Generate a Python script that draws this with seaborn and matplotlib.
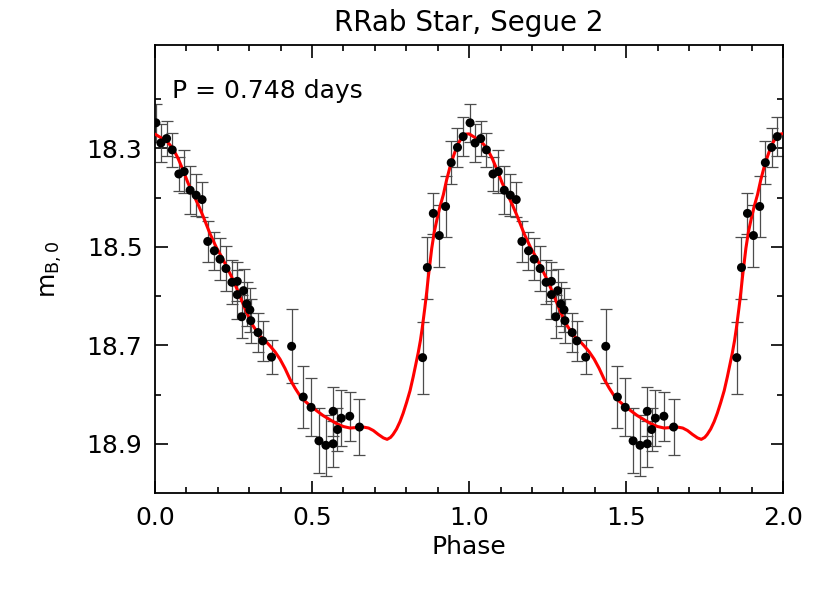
import numpy as np
import pandas as pd
import matplotlib
matplotlib.use("Agg")
import matplotlib.pyplot as plt
from matplotlib.ticker import MultipleLocator, FixedLocator, FormatStrFormatter
import seaborn as sns

# Observed points, one cycle (phase, B magnitude, error)
phase = [0.003, 0.019, 0.037, 0.055, 0.076, 0.093, 0.112, 0.131, 0.150,
         0.168, 0.189, 0.207, 0.226, 0.245, 0.262, 0.262, 0.282, 0.276,
         0.292, 0.302, 0.305, 0.328, 0.343, 0.371, 0.435, 0.472, 0.497,
         0.522, 0.544, 0.567, 0.567, 0.581, 0.593, 0.620, 0.651, 0.852,
         0.867, 0.886, 0.905, 0.925, 0.943, 0.963, 0.981]
mag = [18.248, 18.289, 18.280, 18.303, 18.352, 18.347, 18.385, 18.395, 18.404,
       18.489, 18.508, 18.525, 18.544, 18.572, 18.570, 18.597, 18.589, 18.642,
       18.616, 18.628, 18.650, 18.674, 18.691, 18.724, 18.702, 18.805, 18.826,
       18.894, 18.903, 18.834, 18.900, 18.871, 18.848, 18.844, 18.866, 18.725,
       18.542, 18.432, 18.477, 18.418, 18.329, 18.298, 18.276]
err = [0.039, 0.038, 0.035, 0.034, 0.035, 0.043, 0.049, 0.042, 0.036,
       0.042, 0.038, 0.043, 0.045, 0.045, 0.040, 0.050, 0.045, 0.044,
       0.045, 0.045, 0.045, 0.040, 0.040, 0.034, 0.075, 0.063, 0.059,
       0.066, 0.062, 0.050, 0.047, 0.044, 0.057, 0.050, 0.057, 0.073,
       0.063, 0.042, 0.063, 0.061, 0.044, 0.040, 0.039]

# Template fit, one cycle
fit_phase = [0.000, 0.026, 0.040, 0.058, 0.074, 0.090, 0.105, 0.122, 0.138,
             0.154, 0.175, 0.196, 0.212, 0.228, 0.244, 0.260, 0.276, 0.292,
             0.313, 0.334, 0.350, 0.366, 0.382, 0.398, 0.414, 0.430, 0.446,
             0.461, 0.477, 0.493, 0.515, 0.536, 0.557, 0.578, 0.600, 0.621,
             0.642, 0.663, 0.680, 0.695, 0.711, 0.727, 0.739, 0.750, 0.758,
             0.769, 0.780, 0.790, 0.801, 0.812, 0.822, 0.830, 0.838, 0.845,
             0.851, 0.859, 0.865, 0.870, 0.876, 0.881, 0.889, 0.897, 0.907,
             0.918, 0.928, 0.939, 0.950, 0.960, 0.970, 0.981, 0.990, 1.000]
fit_mag = [18.271, 18.281, 18.287, 18.301, 18.321, 18.345, 18.370, 18.393, 18.415,
           18.439, 18.473, 18.502, 18.520, 18.540, 18.561, 18.584, 18.609, 18.634,
           18.661, 18.681, 18.690, 18.701, 18.713, 18.728, 18.747, 18.769, 18.787,
           18.802, 18.813, 18.822, 18.833, 18.843, 18.851, 18.859, 18.865, 18.868,
           18.867, 18.866, 18.868, 18.873, 18.881, 18.888, 18.891, 18.887, 18.881,
           18.870, 18.855, 18.838, 18.816, 18.792, 18.764, 18.740, 18.715, 18.690,
           18.664, 18.624, 18.592, 18.562, 18.530, 18.503, 18.470, 18.446, 18.419,
           18.394, 18.365, 18.338, 18.316, 18.298, 18.285, 18.276, 18.271, 18.270]

# light curve is shown twice
obs = pd.DataFrame({"phase": np.concatenate([phase, np.array(phase) + 1]),
                    "mag": mag * 2, "err": err * 2})
fit = pd.DataFrame({"phase": np.concatenate([fit_phase, np.array(fit_phase) + 1]),
                    "mag": fit_mag * 2})

sns.set_theme(style="ticks")
plt.rcParams["font.family"] = ["DejaVu Sans"]
plt.rcParams.update({"text.color": "black", "axes.labelcolor": "black",
                     "xtick.color": "black", "ytick.color": "black"})

fig = plt.figure(figsize=(8.3, 5.93), dpi=100)
ax = fig.add_axes([0.1867, 0.1686, 0.757, 0.7555])

ax.errorbar(obs["phase"], obs["mag"], yerr=obs["err"], fmt="none",
            ecolor="0.3", elinewidth=0.9, capsize=4.2, capthick=0.9, zorder=2)
sns.lineplot(data=fit, x="phase", y="mag", color="red", lw=2.2, sort=False,
             ax=ax, zorder=3)
sns.scatterplot(data=obs, x="phase", y="mag", color="black", s=42,
                edgecolor="none", ax=ax, zorder=4)

ax.set_xlim(0, 2)
ax.set_ylim(19.0, 18.09)
ax.xaxis.set_major_locator(MultipleLocator(0.5))
ax.xaxis.set_minor_locator(MultipleLocator(0.1))
ax.yaxis.set_major_locator(FixedLocator([18.3, 18.5, 18.7, 18.9]))
ax.yaxis.set_minor_locator(FixedLocator([18.2, 18.4, 18.6, 18.8]))
ax.xaxis.set_major_formatter(FormatStrFormatter("%.1f"))
ax.yaxis.set_major_formatter(FormatStrFormatter("%.1f"))

ax.tick_params(which="both", direction="in", top=True, right=True,
               labelsize=18, width=1.2)
ax.tick_params(which="major", length=9, pad=9)
ax.tick_params(which="minor", length=4)
for sp in ax.spines.values():
    sp.set_linewidth(1.3)
    sp.set_color("black")

ax.set_xlabel("Phase", fontsize=18, labelpad=4)
ax.set_ylabel(r"m$_{\mathrm{B,0}}$", fontsize=18, labelpad=16)
ax.set_title("RRab Star, Segue 2", fontsize=20, pad=10)
ax.text(0.027, 0.897, "P = 0.748 days", transform=ax.transAxes,
        fontsize=18, va="center", ha="left")

fig.savefig("out.png", dpi=100)
